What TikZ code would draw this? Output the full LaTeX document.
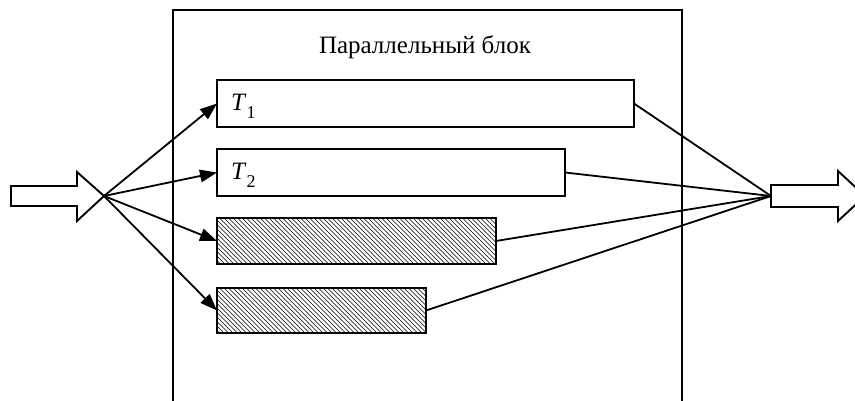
\documentclass[tikz,border=0pt]{standalone}
\usepackage{fontspec}
\setmainfont{Liberation Serif}
\usetikzlibrary{arrows.meta}
\begin{document}
\begin{tikzpicture}[x=1pt,y=-1pt,
  box/.style={draw, line width=1.9pt, inner sep=0pt, outer sep=0pt, anchor=north west, fill=white},
  border/.style={draw, line width=1.9pt},
  hatch/.style={line width=0.45pt},
  conn/.style={line width=1.8pt},
  arr/.style={conn, -{Triangle[length=17pt,width=12.5pt]}},
  blockarrow/.style={draw, line width=1.9pt, fill=white},
  frame/.style={draw, line width=1.9pt},
  lbl/.style={anchor=base west, inner sep=0pt, font=\fontsize{25}{25}\selectfont},
  title/.style={anchor=base, inner sep=0pt, font=\fontsize{25}{25}\selectfont}]
\useasboundingbox (0,0) rectangle (855,401);
\clip (0,0) rectangle (855,401);
% outer block (open at the bottom)
\draw[frame] (173,420) -- (173,10) -- (682,10) -- (682,420);
\node[title] (ttl) at (425,54) {Параллельный блок};
% boxes
\node[box, minimum width=417pt, minimum height=47pt] (t1) at (217,80) {};
\node[box, minimum width=348pt, minimum height=47pt] (t2) at (217,149) {};
\node[box, minimum width=279pt, minimum height=46pt] (h1) at (217,218) {};
\node[box, minimum width=209pt, minimum height=45pt] (h2) at (217,288) {};
% hatching
\begin{scope}
  \clip (h1.north west) rectangle (h1.south east);
  \foreach \x in {168,172.5,...,500} \draw[hatch] (\x,216) -- ++(50,50);
\end{scope}
\draw[border] (h1.north west) rectangle (h1.south east);
\begin{scope}
  \clip (h2.north west) rectangle (h2.south east);
  \foreach \x in {168,172.5,...,430} \draw[hatch] (\x,286) -- ++(50,50);
\end{scope}
\draw[border] (h2.north west) rectangle (h2.south east);
\node[lbl] (l1) at ([xshift=14pt,yshift=-31pt]t1.north west) {\textit{T}\raisebox{-8pt}{\fontsize{18}{18}\selectfont 1}};
\node[lbl] (l2) at ([xshift=14pt,yshift=-31pt]t2.north west) {\textit{T}\raisebox{-8pt}{\fontsize{18}{18}\selectfont 2}};
% block arrows
\draw[blockarrow] (11,186) -- (77,186) -- (77,172) -- (104,196) -- (77,221) -- (77,206) -- (11,206) -- cycle;
\coordinate (in) at (104,196);
\draw[blockarrow] (771,185) -- (838,185) -- (838,171) -- (865,196) -- (838,221) -- (838,207) -- (771,207) -- cycle;
\coordinate (out) at (771,196);
% connectors
\draw[arr] (in) -- (t1.west);
\draw[arr] (in) -- (t2.west);
\draw[arr] (in) -- (h1.west);
\draw[arr] (in) -- (h2.west);
\draw[conn] (t1.east) -- (out);
\draw[conn] (t2.east) -- (out);
\draw[conn] (h1.east) -- (out);
\draw[conn] (h2.east) -- (out);
\end{tikzpicture}
\end{document}
